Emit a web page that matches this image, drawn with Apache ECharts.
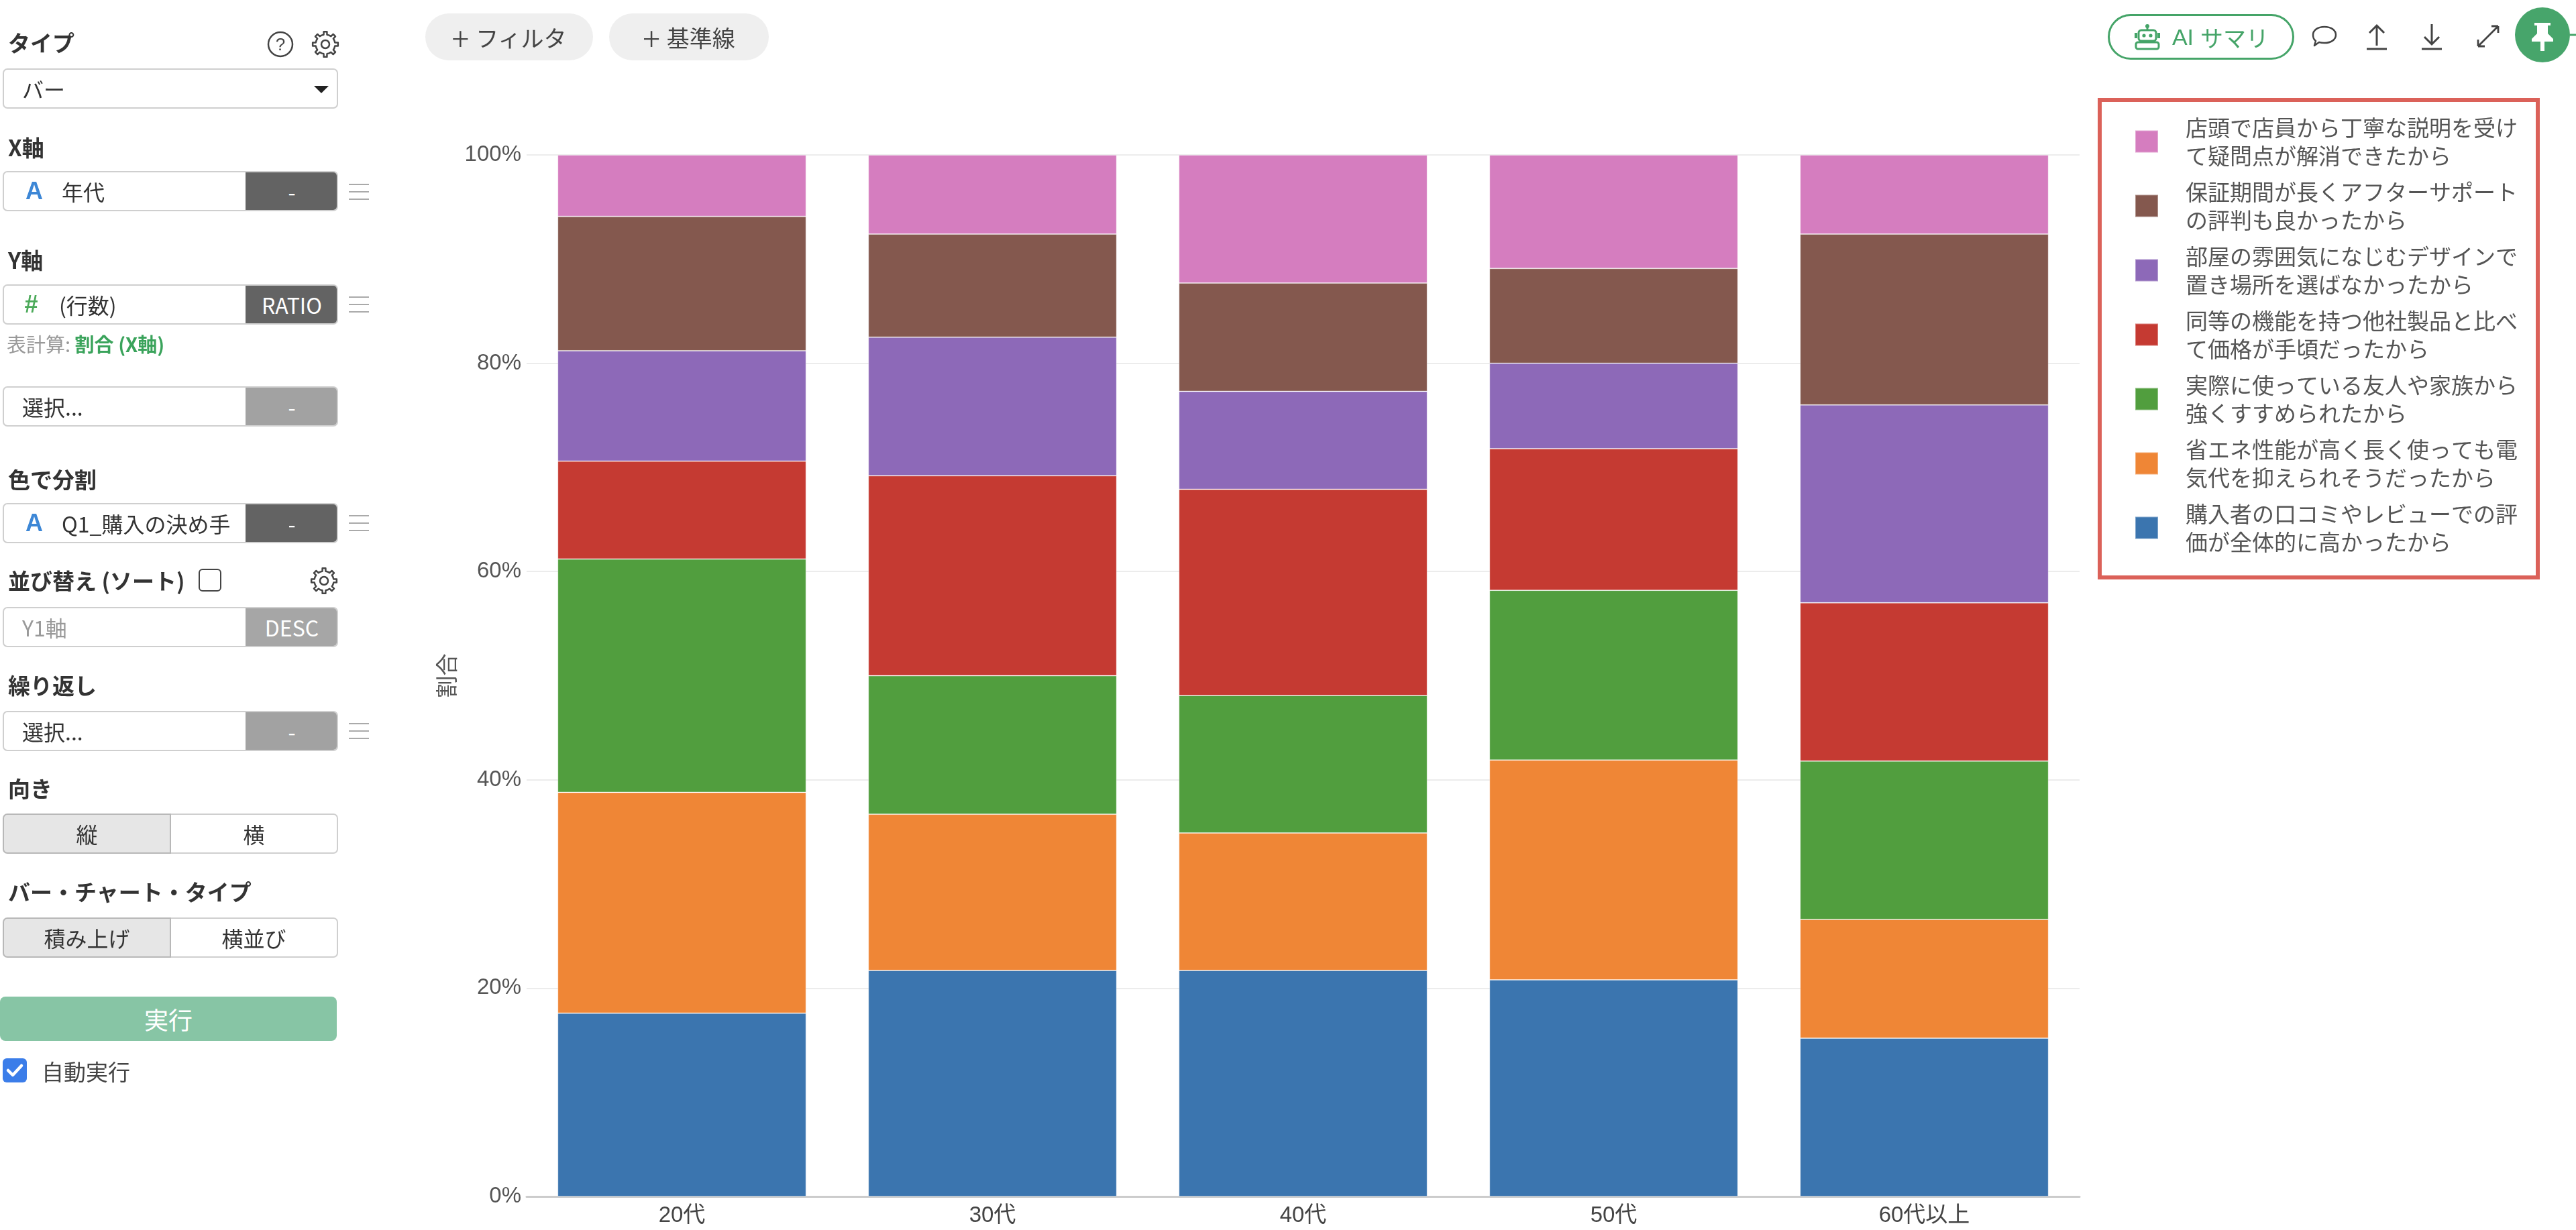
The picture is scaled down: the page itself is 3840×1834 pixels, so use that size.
<!DOCTYPE html>
<html>
<head>
<meta charset="utf-8">
<title>購入の決め手 x 年代</title>
<script src="https://cdn.jsdelivr.net/npm/echarts@6.0.0/dist/echarts.min.js"></script>
<style>
  html, body { margin: 0; padding: 0; background: #fff; }
  body { width: 3840px; height: 1834px; position: relative; overflow: hidden;
         font-family: "Noto Sans CJK JP", "Noto Sans", sans-serif; color: #333; }
  #chart { position: absolute; left: 0; top: 0; width: 3840px; height: 1834px; }
  .ui { position: absolute; z-index: 2; }
  .lbl { left: 12px; font-size: 33px; font-weight: bold; color: #333; line-height: 34px; }
  .field { left: 4px; width: 500px; height: 60px; border: 2px solid #cfcfcf; border-radius: 7px;
           box-sizing: border-box; overflow: hidden; background: #fff; }
  .field .txt { position: absolute; top: 0; bottom: 0; display: flex; align-items: center;
                font-size: 32px; color: #333; white-space: nowrap; }
  .field .side { position: absolute; right: -2px; top: -2px; bottom: -2px; width: 138px;
                 background: #636363; color: #fff; display: flex; align-items: center;
                 justify-content: center; font-size: 32px; border-radius: 0 7px 7px 0; }
  .field .side.light { background: #a2a2a2; }
  .ham { left: 520px; width: 30px; height: 26px; }
  .toggle { left: 4px; width: 500px; height: 60px; box-sizing: border-box; display: flex; }
  .toggle div { flex: 1; display: flex; align-items: center; justify-content: center;
                font-size: 32px; color: #333; border: 2px solid #cfcfcf; background: #fff; }
  .toggle div.on { background: #e6e6e6; border-color: #b8b8b8; border-radius: 7px 0 0 7px; }
  .toggle div.off { border-left: none; border-radius: 0 7px 7px 0; }
  .pill { top: 20px; height: 70px; border-radius: 35px; background: #efefef; color: #444;
          font-size: 34px; display: flex; align-items: center; justify-content: center; }
  .pill b { font-weight: 300; font-size: 48px; margin-right: 10px; line-height: 1; }
</style>
</head>
<body>
<div id="chart"></div>

<!-- left settings panel -->
<div class="ui lbl" style="top:46px">タイプ</div>
<svg class="ui" style="left:396px;top:44px" width="44" height="44" viewBox="0 0 44 44">
  <circle cx="22" cy="22" r="18" fill="none" stroke="#444" stroke-width="2.5"/>
  <text x="22" y="31" text-anchor="middle" font-size="26" fill="#444" font-family="Liberation Sans">?</text>
</svg>
<svg class="ui gear" style="left:463px;top:44px" width="44" height="44" viewBox="0 0 44 44"></svg>

<div class="ui field" style="top:102px">
  <div class="txt" style="left:27px">バー</div>
  <svg style="position:absolute;left:462px;top:24px" width="22" height="11"><path d="M0 0 L22 0 L11 11 Z" fill="#222"/></svg>
</div>

<div class="ui lbl" style="top:202px">X軸</div>
<div class="ui field" style="top:255px">
  <div class="txt" style="left:32px;color:#3d87d6;font-weight:bold;font-family:'Liberation Sans';font-size:36px">A</div>
  <div class="txt" style="left:86px">年代</div>
  <div class="side">-</div>
</div>
<svg class="ui ham" style="top:273px" viewBox="0 0 30 26"><path d="M0 2H30M0 13H30M0 24H30" stroke="#aaa" stroke-width="2"/></svg>

<div class="ui lbl" style="top:370px">Y軸</div>
<div class="ui field" style="top:424px">
  <div class="txt" style="left:30px;color:#4caa5a;font-weight:bold;font-size:36px;font-family:'Liberation Sans';font-style:italic">#</div>
  <div class="txt" style="left:82px">(行数)</div>
  <div class="side">RATIO</div>
</div>
<svg class="ui ham" style="top:441px" viewBox="0 0 30 26"><path d="M0 2H30M0 13H30M0 24H30" stroke="#aaa" stroke-width="2"/></svg>
<div class="ui" style="left:10px;top:496px;font-size:29px;color:#999;line-height:32px">表計算: <span style="color:#3aa35b;font-weight:bold">割合 (X軸)</span></div>

<div class="ui field" style="top:576px">
  <div class="txt" style="left:27px">選択...</div>
  <div class="side light">-</div>
</div>

<div class="ui lbl" style="top:697px">色で分割</div>
<div class="ui field" style="top:750px">
  <div class="txt" style="left:32px;color:#3d87d6;font-weight:bold;font-family:'Liberation Sans';font-size:36px">A</div>
  <div class="txt" style="left:86px">Q1_購入の決め手</div>
  <div class="side">-</div>
</div>
<svg class="ui ham" style="top:767px" viewBox="0 0 30 26"><path d="M0 2H30M0 13H30M0 24H30" stroke="#aaa" stroke-width="2"/></svg>

<div class="ui lbl" style="top:848px">並び替え (ソート)</div>
<div class="ui" style="left:296px;top:848px;width:34px;height:34px;box-sizing:border-box;border:2.5px solid #444;border-radius:6px"></div>
<svg class="ui gear" style="left:461px;top:844px" width="44" height="44" viewBox="0 0 44 44"></svg>
<div class="ui field" style="top:905px">
  <div class="txt" style="left:27px;color:#999">Y1軸</div>
  <div class="side light" style="background:#a6a6a6">DESC</div>
</div>

<div class="ui lbl" style="top:1004px">繰り返し</div>
<div class="ui field" style="top:1060px">
  <div class="txt" style="left:27px">選択...</div>
  <div class="side light">-</div>
</div>
<svg class="ui ham" style="top:1077px" viewBox="0 0 30 26"><path d="M0 2H30M0 13H30M0 24H30" stroke="#aaa" stroke-width="2"/></svg>

<div class="ui lbl" style="top:1158px">向き</div>
<div class="ui toggle" style="top:1213px"><div class="on">縦</div><div class="off">横</div></div>

<div class="ui lbl" style="top:1312px">バー・チャート・タイプ</div>
<div class="ui toggle" style="top:1368px"><div class="on">積み上げ</div><div class="off">横並び</div></div>

<div class="ui" style="left:0;top:1486px;width:502px;height:66px;border-radius:8px;background:#87c5a5;color:#fff;font-size:36px;display:flex;align-items:center;justify-content:center">実行</div>
<svg class="ui" style="left:4px;top:1578px" width="36" height="36" viewBox="0 0 36 36">
  <rect width="36" height="36" rx="6" fill="#3b7de9"/>
  <path d="M8 18 L15 25 L28 11" fill="none" stroke="#fff" stroke-width="4.5" stroke-linecap="round" stroke-linejoin="round"/>
</svg>
<div class="ui" style="left:62px;top:1579px;font-size:33px;color:#444;line-height:36px">自動実行</div>

<!-- top toolbar -->
<div class="ui pill" style="left:634px;width:250px"><b>+</b>フィルタ</div>
<div class="ui pill" style="left:908px;width:238px"><b>+</b>基準線</div>

<div class="ui" style="left:3142px;top:21px;width:278px;height:68px;box-sizing:border-box;border:3px solid #45a468;border-radius:34px;color:#45a468;font-size:34px;display:flex;align-items:center;justify-content:center">
  <svg width="42" height="40" viewBox="0 0 42 40" style="margin-right:16px">
    <circle cx="21" cy="4" r="3" fill="#45a468"/>
    <rect x="19.5" y="5" width="3" height="5" fill="#45a468"/>
    <rect x="8" y="10" width="26" height="16" rx="4" fill="none" stroke="#45a468" stroke-width="3"/>
    <circle cx="16" cy="18" r="2.6" fill="#45a468"/><circle cx="26" cy="18" r="2.6" fill="#45a468"/>
    <rect x="2" y="14" width="4" height="8" fill="#45a468"/><rect x="36" y="14" width="4" height="8" fill="#45a468"/>
    <rect x="4" y="28" width="34" height="10" rx="3" fill="none" stroke="#45a468" stroke-width="3"/>
  </svg>
  <span style="font-family:'Liberation Sans','Noto Sans CJK JP'">AI</span><span style="margin-left:10px">サマリ</span>
</div>
<svg class="ui" style="left:3445px;top:36px" width="40" height="36" viewBox="0 0 40 36">
  <path d="M20 4 C30 4 37 9 37 16 C37 23 30 28 20 28 C17 28 14 27.5 12 27 L5 32 L7 25 C4 23 3 20 3 16 C3 9 10 4 20 4 Z" fill="none" stroke="#444" stroke-width="2.5" stroke-linejoin="round"/>
</svg>
<svg class="ui" style="left:3526px;top:32px" width="34" height="44" viewBox="0 0 34 44">
  <path d="M17 36 V6 M6 17 L17 6 L28 17 M2 41 H32" fill="none" stroke="#444" stroke-width="3"/>
</svg>
<svg class="ui" style="left:3608px;top:32px" width="34" height="44" viewBox="0 0 34 44">
  <path d="M17 4 V34 M6 23 L17 34 L28 23 M2 41 H32" fill="none" stroke="#444" stroke-width="3"/>
</svg>
<svg class="ui" style="left:3690px;top:35px" width="38" height="38" viewBox="0 0 38 38">
  <path d="M4 34 L34 4 M4 34 V24 M4 34 H14 M34 4 H24 M34 4 V14" fill="none" stroke="#444" stroke-width="2.8"/>
</svg>
<svg class="ui" style="left:3748px;top:10px" width="92" height="84" viewBox="0 0 92 84">
  <circle cx="42" cy="42" r="41" fill="#47a56b"/>
  <path d="M83 42 H92" stroke="#47a56b" stroke-width="3"/>
  <path d="M30 24 H54 V28 H50 V40 L58 48 V52 H45 V66 H39 V52 H26 V48 L34 40 V28 H30 Z" fill="#fff"/>
</svg>

<script>
// gear outline icons
function gearPath(cx, cy, ro, ri, n) {
  var d = '', step = Math.PI * 2 / n;
  for (var i = 0; i < n; i++) {
    var a = i * step;
    var pts = [[ri, a - step * 0.5], [ri, a - step * 0.22], [ro, a - step * 0.16], [ro, a + step * 0.16], [ri, a + step * 0.22]];
    pts.forEach(function (p, j) {
      var x = (cx + p[0] * Math.cos(p[1])).toFixed(2), y = (cy + p[0] * Math.sin(p[1])).toFixed(2);
      d += (i === 0 && j === 0 ? 'M' : 'L') + x + ' ' + y + ' ';
    });
  }
  return d + 'Z';
}
document.querySelectorAll('svg.gear').forEach(function (s) {
  s.innerHTML = '<path d="' + gearPath(22, 22, 19, 14.5, 8) + '" fill="none" stroke="#444" stroke-width="2.5" stroke-linejoin="round"/>' +
    '<circle cx="22" cy="22" r="6" fill="none" stroke="#444" stroke-width="2.5"/>';
});

// data
var categories = ['20代', '30代', '40代', '50代', '60代以上'];
var seriesNames = [
  '購入者の口コミやレビューでの評価が全体的に高かったから',
  '省エネ性能が高く長く使っても電気代を抑えられそうだったから',
  '実際に使っている友人や家族から強くすすめられたから',
  '同等の機能を持つ他社製品と比べて価格が手頃だったから',
  '部屋の雰囲気になじむデザインで置き場所を選ばなかったから',
  '保証期間が長くアフターサポートの評判も良かったから',
  '店頭で店員から丁寧な説明を受けて疑問点が解消できたから'
];
var reviewVals   = [17.6, 21.7, 21.7, 20.8, 15.2];
var energyVals   = [21.2, 15.0, 13.2, 21.1, 11.4];
var friendVals   = [22.4, 13.3, 13.2, 16.3, 15.2];
var priceVals    = [9.4, 19.2, 19.8, 13.6, 15.2];
var designVals   = [10.6, 13.3, 9.4, 8.2, 19.0];
var warrantyVals = [12.9, 9.9, 10.4, 9.1, 16.4];
var staffVals    = [5.9, 7.6, 12.3, 10.9, 7.6];
var seriesValues = [reviewVals, energyVals, friendVals, priceVals, designVals, warrantyVals, staffVals];
var colors = ['#3b75af', '#ef8636', '#519e3e', '#c53a32', '#8d69b8', '#84584e', '#d57dbf'];
var yMin = 0, yMax = 100, yStep = 20;

var labelFont = '"Liberation Sans", "Noto Sans CJK JP", sans-serif';

var myChart = echarts.init(document.getElementById('chart'));
var option = {
  animation: false,
  color: colors,
  grid: { left: 785, right: 740, top: 231, bottom: 50 },
  legend: {
    orient: 'vertical',
    left: 3130,
    top: 149,
    data: seriesNames.slice().reverse(),
    icon: 'rect',
    itemWidth: 34,
    itemHeight: 33,
    itemGap: 12,
    padding: [20, 30, 32, 52],
    borderColor: '#db6159',
    borderWidth: 6,
    formatter: function (n) { return n.slice(0, 15) + '\n' + n.slice(15); },
    textStyle: { fontSize: 33, lineHeight: 42, color: '#555', fontFamily: 'Noto Sans CJK JP', padding: [0, 0, 0, 36] }
  },
  xAxis: {
    type: 'category',
    data: categories,
    axisTick: { show: false },
    axisLine: { lineStyle: { color: '#cccccc', width: 3 } },
    axisLabel: { fontSize: 33, color: '#444', margin: 12, fontFamily: labelFont }
  },
  yAxis: {
    type: 'value',
    min: yMin, max: yMax, interval: yStep,
    name: '割合',
    nameLocation: 'middle',
    nameGap: 100,
    nameRotate: 90,
    nameTextStyle: { fontSize: 33, color: '#555', fontFamily: 'Noto Sans CJK JP' },
    axisLine: { show: false },
    axisTick: { show: false },
    splitLine: { lineStyle: { color: '#ececec', width: 2 } },
    axisLabel: { formatter: '{value}%', fontSize: 33, color: '#555', margin: 8, fontFamily: labelFont }
  },
  series: seriesNames.map(function (name, i) {
    return {
      name: name,
      type: 'bar',
      stack: 'ratio',
      barCategoryGap: '20%',
      data: seriesValues[i],
      itemStyle: { borderColor: 'rgba(255,255,255,0.35)', borderWidth: 1 }
    };
  })
};
myChart.setOption(option);
</script>
</body>
</html>
